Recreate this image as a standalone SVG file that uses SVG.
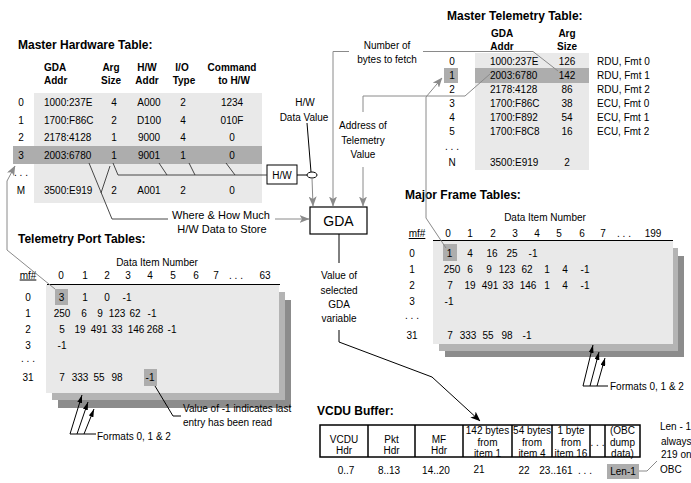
<svg xmlns="http://www.w3.org/2000/svg" width="691" height="483" viewBox="0 0 691 483">
<style>
text{font-family:"Liberation Sans",Arial,sans-serif;font-size:10px;fill:#000}
.ti{font-size:12px;font-weight:bold}
.hd{font-weight:bold}
.c{text-anchor:middle}
.lg{fill:#e9e9e9}
.dk{fill:#adadad}
.s1{fill:#b4b4b4}
.s2{fill:#8c8c8c}
.cg{stroke:#8a8a8a;stroke-width:1;fill:none}
.cb{stroke:#000;stroke-width:1;fill:none}
.cd{stroke:#333;stroke-width:0.9;fill:none}
.u{text-decoration:underline}
</style>
<defs>
<marker id="ag" markerUnits="userSpaceOnUse" markerWidth="10" markerHeight="8" viewBox="0 0 10 8" refX="9.5" refY="4" orient="auto"><path d="M0,0 L10,4 L0,8 L2.5,4 z" fill="#8a8a8a"/></marker>
<marker id="ab" markerUnits="userSpaceOnUse" markerWidth="10" markerHeight="8" viewBox="0 0 10 8" refX="9.5" refY="4" orient="auto"><path d="M0,0 L10,4 L0,8 L2.5,4 z" fill="#000"/></marker>
<marker id="af" markerUnits="userSpaceOnUse" markerWidth="8" markerHeight="5" viewBox="0 0 8 5" refX="8" refY="2.5" orient="auto"><path d="M0,0 L8,2.5 L0,5 z" fill="#000"/></marker>
</defs>

<g id="master-hardware-table">
<text class="ti" x="18" y="49">Master Hardware Table:</text>
<text class="hd" x="44" y="71">GDA</text><text class="hd" x="44" y="84">Addr</text>
<text class="hd c" x="111" y="71">Arg</text><text class="hd c" x="111" y="84">Size</text>
<text class="hd c" x="147" y="71">H/W</text><text class="hd c" x="147" y="84">Addr</text>
<text class="hd c" x="182" y="71">I/O</text><text class="hd c" x="184" y="84">Type</text>
<text class="hd c" x="232" y="71">Command</text><text class="hd c" x="234" y="84">to H/W</text>
<rect class="lg" x="34" y="93" width="228" height="110"/>
<rect class="dk" x="13" y="146" width="249" height="18"/>
<g>
<text class="c" x="21" y="106">0</text><text x="44" y="106">1000:237E</text><text class="c" x="114" y="106">4</text><text class="c" x="149" y="106">A000</text><text class="c" x="183" y="106">2</text><text class="c" x="232" y="106">1234</text>
<text class="c" x="21" y="123.5">1</text><text x="44" y="123.5">1700:F86C</text><text class="c" x="114" y="123.5">2</text><text class="c" x="149" y="123.5">D100</text><text class="c" x="183" y="123.5">4</text><text class="c" x="232" y="123.5">010F</text>
<text class="c" x="21" y="141">2</text><text x="44" y="141">2178:4128</text><text class="c" x="114" y="141">1</text><text class="c" x="149" y="141">9000</text><text class="c" x="183" y="141">4</text><text class="c" x="232" y="141">0</text>
<text class="c" x="21" y="158.5">3</text><text x="44" y="158.5">2003:6780</text><text class="c" x="114" y="158.5">1</text><text class="c" x="149" y="158.5">9001</text><text class="c" x="183" y="158.5">1</text><text class="c" x="232" y="158.5">0</text>
<text class="c" x="21" y="176">. . .</text>
<text class="c" x="21" y="193.5">M</text><text x="44" y="193.5">3500:E919</text><text class="c" x="114" y="193.5">2</text><text class="c" x="149" y="193.5">A001</text><text class="c" x="183" y="193.5">2</text><text class="c" x="232" y="193.5">0</text>
</g>
</g>

<g id="master-telemetry-table">
<text class="ti" x="447" y="20">Master Telemetry Table:</text>
<text class="hd c" x="502" y="37">GDA</text><text class="hd c" x="502" y="50">Addr</text>
<text class="hd c" x="567" y="37">Arg</text><text class="hd c" x="567" y="50">Size</text>
<rect class="lg" x="475" y="53" width="114" height="117"/>
<rect class="dk" x="475" y="68" width="114" height="15"/>
<rect class="dk" x="444" y="68" width="14" height="15"/>
<text class="c" x="452" y="64.6">0</text><text x="490" y="64.6">1000:237E</text><text class="c" x="567" y="64.6">126</text><text x="597" y="64.6">RDU, Fmt 0</text>
<text class="c" x="452" y="78.6">1</text><text x="490" y="78.6">2003:6780</text><text class="c" x="567" y="78.6">142</text><text x="597" y="78.6">RDU, Fmt 1</text>
<text class="c" x="452" y="92.6">2</text><text x="490" y="92.6">2178:4128</text><text class="c" x="567" y="92.6">86</text><text x="597" y="92.6">RDU, Fmt 2</text>
<text class="c" x="452" y="106.6">3</text><text x="490" y="106.6">1700:F86C</text><text class="c" x="567" y="106.6">38</text><text x="597" y="106.6">ECU, Fmt 0</text>
<text class="c" x="452" y="120.6">4</text><text x="490" y="120.6">1700:F892</text><text class="c" x="567" y="120.6">54</text><text x="597" y="120.6">ECU, Fmt 1</text>
<text class="c" x="452" y="134.6">5</text><text x="490" y="134.6">1700:F8C8</text><text class="c" x="567" y="134.6">16</text><text x="597" y="134.6">ECU, Fmt 2</text>
<text class="c" x="452" y="150">. . .</text>
<text class="c" x="452" y="166">N</text><text x="490" y="166">3500:E919</text><text class="c" x="567" y="166">2</text>
</g>

<g id="hw-box">
<rect x="267" y="165" width="30" height="19" fill="#fff" stroke="#000" stroke-width="1"/>
<text class="c" x="282" y="178.5">H/W</text>
</g>

<g id="gda">
<rect x="310" y="207" width="57" height="27" fill="#fff" stroke="#000" stroke-width="1.2"/>
<text class="c" x="338.5" y="226" style="font-size:14px">GDA</text>
</g>

<g id="telemetry-port-tables">
<text class="ti" x="18" y="243">Telemetry Port Tables:</text>
<text class="c" x="157" y="265.5">Data Item Number</text>
<text class="c u" x="28" y="278.5">mf#</text>
<text class="c" x="61" y="278.5">0</text><text class="c" x="85" y="278.5">1</text><text class="c" x="107" y="278.5">2</text><text class="c" x="128" y="278.5">3</text><text class="c" x="150" y="278.5">4</text><text class="c" x="173" y="278.5">5</text><text class="c" x="196" y="278.5">6</text><text class="c" x="216" y="278.5">7</text><text class="c" x="236" y="278.5">. . .</text><text class="c" x="265" y="278.5">63</text>
<rect class="s2" x="58" y="300" width="233" height="108"/>
<rect class="s1" x="52" y="292" width="233" height="108"/>
<rect class="lg" x="46" y="285" width="233" height="108"/>
<line x1="47" y1="284.5" x2="280" y2="284.5" stroke="#000" stroke-width="1"/>
<rect class="dk" x="55" y="289" width="13" height="16"/>
<rect class="dk" x="144" y="369" width="13" height="17"/>
<text class="c" x="28" y="300.5">0</text><text class="c" x="61.5" y="300.5">3</text><text class="c" x="85" y="300.5">1</text><text class="c" x="107" y="300.5">0</text><text class="c" x="127" y="300.5">-1</text>
<text class="c" x="28" y="316.5">1</text><text class="c" x="62" y="316.5">250</text><text class="c" x="84" y="316.5">6</text><text class="c" x="100" y="316.5">9</text><text class="c" x="117" y="316.5">123</text><text class="c" x="135" y="316.5">62</text><text class="c" x="152" y="316.5">-1</text>
<text class="c" x="28" y="332.5">2</text><text class="c" x="62" y="332.5">5</text><text class="c" x="80" y="332.5">19</text><text class="c" x="99" y="332.5">491</text><text class="c" x="117" y="332.5">33</text><text class="c" x="136" y="332.5">146</text><text class="c" x="155" y="332.5">268</text><text class="c" x="172" y="332.5">-1</text>
<text class="c" x="28" y="348.5">3</text><text class="c" x="62" y="348.5">-1</text>
<text class="c" x="28" y="362">. . .</text>
<text class="c" x="28" y="380.5">31</text><text class="c" x="62" y="380.5">7</text><text class="c" x="80" y="380.5">333</text><text class="c" x="99" y="380.5">55</text><text class="c" x="117" y="380.5">98</text><text class="c" x="150" y="380.5">-1</text>
</g>

<g id="major-frame-tables">
<text class="ti" x="405" y="199">Major Frame Tables:</text>
<text class="c" x="545" y="221">Data Item Number</text>
<text class="c u" x="417" y="237">mf#</text>
<text class="c" x="448" y="237">0</text><text class="c" x="470" y="237">1</text><text class="c" x="493" y="237">2</text><text class="c" x="515" y="237">3</text><text class="c" x="537" y="237">4</text><text class="c" x="559" y="237">5</text><text class="c" x="582" y="237">6</text><text class="c" x="603" y="237">7</text><text class="c" x="624" y="237">. . .</text><text class="c" x="653" y="237">199</text>
<rect class="s2" x="445" y="256" width="239" height="101"/>
<rect class="s1" x="439" y="248" width="239" height="103"/>
<rect class="lg" x="433" y="241" width="240" height="103"/>
<line x1="433" y1="240.5" x2="673" y2="240.5" stroke="#000" stroke-width="1"/>
<rect class="dk" x="443" y="244" width="14" height="17"/>
<text class="c" x="412" y="256.6">0</text><text class="c" x="449.5" y="256.6">1</text><text class="c" x="470" y="256.6">4</text><text class="c" x="492" y="256.6">16</text><text class="c" x="512" y="256.6">25</text><text class="c" x="533" y="256.6">-1</text>
<text class="c" x="412" y="272.6">1</text><text class="c" x="452" y="272.6">250</text><text class="c" x="470" y="272.6">6</text><text class="c" x="489" y="272.6">9</text><text class="c" x="507" y="272.6">123</text><text class="c" x="527" y="272.6">62</text><text class="c" x="547" y="272.6">1</text><text class="c" x="565" y="272.6">4</text><text class="c" x="585" y="272.6">-1</text>
<text class="c" x="412" y="288.6">2</text><text class="c" x="450" y="288.6">7</text><text class="c" x="470" y="288.6">19</text><text class="c" x="490" y="288.6">491</text><text class="c" x="508" y="288.6">33</text><text class="c" x="528" y="288.6">146</text><text class="c" x="547" y="288.6">1</text><text class="c" x="565" y="288.6">4</text><text class="c" x="585" y="288.6">-1</text>
<text class="c" x="412" y="304.6">3</text><text class="c" x="449" y="304.6">-1</text>
<text class="c" x="412" y="319">. . .</text>
<text class="c" x="412" y="338.6">31</text><text class="c" x="450" y="338.6">7</text><text class="c" x="468" y="338.6">333</text><text class="c" x="488" y="338.6">55</text><text class="c" x="507" y="338.6">98</text><text class="c" x="527" y="338.6">-1</text>
</g>

<g id="vcdu-buffer">
<text class="ti" x="317" y="415">VCDU Buffer:</text>
<g fill="#fff" stroke="#000" stroke-width="1.5">
<rect x="320" y="425" width="320" height="32"/>
<line x1="368" y1="425" x2="368" y2="457"/><line x1="415" y1="425" x2="415" y2="457"/><line x1="463" y1="425" x2="463" y2="457"/><line x1="512" y1="425" x2="512" y2="457"/><line x1="552" y1="425" x2="552" y2="457"/><line x1="590" y1="425" x2="590" y2="457"/><line x1="605" y1="425" x2="605" y2="457"/>
</g>
<text class="c" x="344" y="443">VCDU</text><text class="c" x="344" y="454">Hdr</text>
<text class="c" x="391.5" y="443">Pkt</text><text class="c" x="391.5" y="454">Hdr</text>
<text class="c" x="439" y="443">MF</text><text class="c" x="439" y="454">Hdr</text>
<text class="c" x="487.5" y="434">142 bytes</text><text class="c" x="487.5" y="446">from</text><text class="c" x="487.5" y="457">item 1</text>
<text class="c" x="532" y="434">54 bytes</text><text class="c" x="532" y="446">from</text><text class="c" x="532" y="457">item 4</text>
<text class="c" x="571" y="434">1 byte</text><text class="c" x="571" y="446">from</text><text class="c" x="571" y="457">item 16</text>
<text class="c" x="597.5" y="446">. . .</text>
<text class="c" x="622.5" y="434">(OBC</text><text class="c" x="622.5" y="446">dump</text><text class="c" x="622.5" y="457">data)</text>
<rect class="dk" x="607" y="464" width="32" height="15"/>
<text class="c" x="346" y="474">0..7</text><text class="c" x="389" y="474">8..13</text><text class="c" x="436" y="474">14..20</text><text class="c" x="479" y="473">21</text><text class="c" x="524" y="474">22</text><text class="c" x="556" y="474">23..161</text><text class="c" x="585" y="474">. . .</text><text class="c" x="623" y="475">Len-1</text>
</g>

<g id="connectors">
<!-- row 3 fields to H/W box -->
<path class="cd" d="M113,163 L118,175 L267,175 M159,163 L167,175 M189,163 L195,175 M226,163 L235,175"/>
<!-- where & how much -->
<path class="cd" d="M89,163 L112,219 L168,219 M110,166 L101,193"/>
<path class="cg" d="M275,219 L309,219" marker-end="url(#ag)"/>
<!-- H/W to GDA -->
<line class="cb" x1="297" y1="175" x2="307" y2="175"/>
<ellipse cx="312" cy="175" rx="5" ry="3" fill="#fff" stroke="#000" stroke-width="1"/>
<line class="cb" x1="307" y1="123" x2="311" y2="172"/>
<path class="cg" d="M312,178 L313,206" marker-end="url(#ag)"/>
<!-- number of bytes -->
<path class="cg" d="M349,51.5 L333,51.5 L333,206" marker-end="url(#ag)"/>
<path class="cg" d="M423,51.5 L533,51.5 L558,71"/>
<!-- address of telemetry value -->
<path class="cg" d="M363,112 L363,96 L465,96 L490,74"/>
<path class="cg" d="M363,167 L363,206" marker-end="url(#ag)"/>
<!-- major frame item to master telemetry -->
<path class="cg" d="M446,248 L426,218 L426,97 L442,78" marker-end="url(#ag)"/>
<!-- telemetry port item to master hardware -->
<path class="cg" d="M55,289 L7,250 L7,181 L15,166" marker-end="url(#ag)"/>
<!-- GDA value to VCDU -->
<line class="cb" x1="339" y1="234" x2="339" y2="263"/>
<path class="cb" d="M339,330 L339,342 L432,377 L480,421" marker-end="url(#ab)"/>
<!-- value of -1 -->
<path class="cb" d="M155,386 L173,416 L181,416"/>
<!-- formats arrows, telemetry port -->
<path class="cb" d="M70,434 L96,434"/>
<path class="cb" d="M70,434 L82,395" marker-end="url(#af)"/>
<path class="cb" d="M77,434 L88,402" marker-end="url(#af)"/>
<path class="cb" d="M84,434 L94,409" marker-end="url(#af)"/>
<!-- formats arrows, major frame -->
<path class="cb" d="M583,386 L608,386"/>
<path class="cb" d="M583,386 L593,345" marker-end="url(#af)"/>
<path class="cb" d="M590,386 L599,352" marker-end="url(#af)"/>
<path class="cb" d="M597,386 L605,358" marker-end="url(#af)"/>
<!-- Len-1 note -->
<path class="cg" d="M639,471 L647,471 L657,461"/>
</g>

<g id="labels">
<text class="c" x="387" y="48.5">Number of</text>
<text class="c" x="387" y="62.5">bytes to fetch</text>
<text class="c" x="305" y="105.5">H/W</text>
<text class="c" x="304" y="120.5">Data Value</text>
<text class="c" x="363" y="128.5">Address of</text>
<text class="c" x="363" y="143.5">Telemetry</text>
<text class="c" x="363" y="157.5">Value</text>
<text class="c" x="221" y="219" style="font-size:11px">Where &amp; How Much</text>
<text class="c" x="222" y="233" style="font-size:11px">H/W Data to Store</text>
<text class="c" x="339" y="278.5">Value of</text>
<text class="c" x="339" y="293.5">selected</text>
<text class="c" x="339" y="308">GDA</text>
<text class="c" x="339" y="322">variable</text>
<text x="183" y="411.5">Value of -1 indicates last</text>
<text x="183" y="425.5">entry has been read</text>
<text x="97" y="439.5">Formats 0, 1 &amp; 2</text>
<text x="610" y="390">Formats 0, 1 &amp; 2</text>
<text x="660" y="429.5">Len - 1</text>
<text x="661" y="444.5">always</text>
<text x="661" y="457.5">219 on</text>
<text x="660" y="472.5">OBC</text>
</g>
</svg>
